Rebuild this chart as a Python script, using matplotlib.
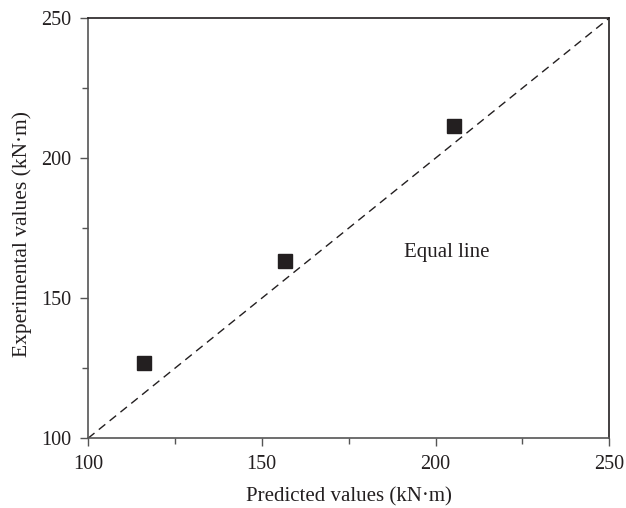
import matplotlib
matplotlib.use("Agg")
import matplotlib.pyplot as plt
from matplotlib.ticker import MultipleLocator

plt.rcParams['font.family'] = ['Liberation Serif', 'DejaVu Serif']

predicted = [116.0, 156.8, 205.2]
experimental = [127.0, 163.4, 211.5]
equal_line = [100, 250]
x_ticks = [100, 150, 200, 250]
y_ticks = [100, 150, 200, 250]

fig = plt.figure(figsize=(6.26, 5.08), dpi=100)
ax = fig.add_axes([88/626, 1-438.3/508, (609.3-88)/626, (438.3-18)/508])

ax.plot(equal_line, equal_line, linestyle=(0, (6, 4)), color='#231f20', linewidth=1.0)
ax.plot(predicted, experimental, linestyle='none', marker='s', markersize=10.5,
        color='#231f20')
ax.text(203.1, 166.2, 'Equal line', ha='center', va='center', fontsize=15, color='#231f20')

ax.set_xlim(100, 250)
ax.set_ylim(100, 250)
ax.set_xticks(x_ticks)
ax.set_yticks(y_ticks)
ax.xaxis.set_minor_locator(MultipleLocator(25))
ax.yaxis.set_minor_locator(MultipleLocator(25))
ax.tick_params(which='both', direction='out', top=False, right=False, color='#555555')
ax.tick_params(which='major', length=5.7, width=1, labelsize=14.5, labelcolor='#231f20', pad=6)
ax.tick_params(which='minor', length=4.5, width=1)
for side in ['left', 'bottom']:
    ax.spines[side].set_color('#555555')
    ax.spines[side].set_linewidth(1.2)
for side in ['top', 'right']:
    ax.spines[side].set_color('#231f20')
    ax.spines[side].set_linewidth(1.2)

ax.set_xlabel('Predicted values (kN·m)', fontsize=15, color='#231f20', labelpad=10)
ax.set_ylabel('Experimental values (kN·m)', fontsize=15.5, color='#231f20', labelpad=7, y=0.487)

fig.savefig('out.png', dpi=100)
